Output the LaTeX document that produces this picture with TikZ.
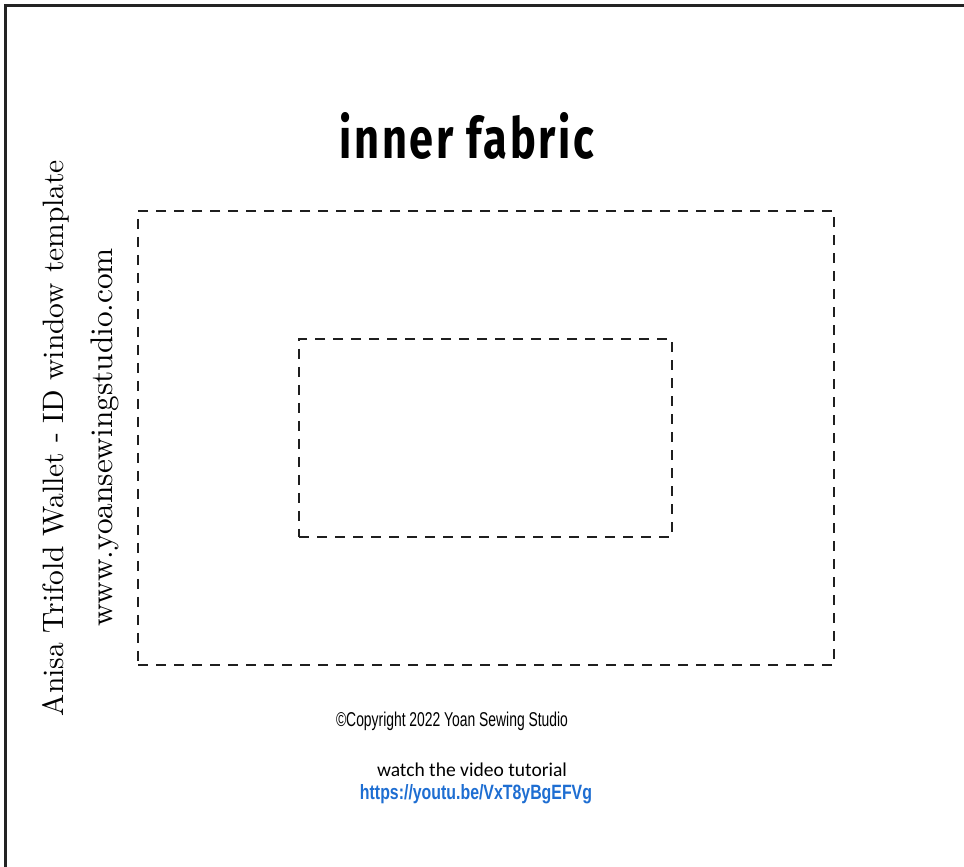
\documentclass[tikz,border=0pt]{standalone}
\usepackage{fontspec}
\usepackage{graphicx}
\newfontfamily\titlefont[LetterSpace=6]{Fira Sans}
\newfontfamily\arialfont{Liberation Sans}
\newfontfamily\calfont{Carlito}
\definecolor{linkblue}{RGB}{30,110,210}
\definecolor{framegray}{RGB}{35,35,35}
\tikzset{
  dashbox/.style={draw=black!88, line width=2pt, dash pattern=on 10pt off 8pt, inner sep=0pt, outer sep=0pt},
  txt/.style={anchor=base, inner sep=0pt, outer sep=0pt},
  frameline/.style={draw=framegray, line width=3pt}
}
\begin{document}
\begin{tikzpicture}[x=1pt,y=1pt]
\useasboundingbox (0,0) rectangle (964,867);
\fill[white] (0,0) rectangle (964,867);
% page frame (left and top edges)
\coordinate (fbl) at (5.5,-5);
\coordinate (ftl) at (5.5,861.5);
\coordinate (ftr) at (975,861.5);
\draw[frameline] (fbl) -- (ftl) -- (ftr);
% dashed rectangles
\node[dashbox, minimum width=696pt, minimum height=454pt] (outer) at (486,429) {};
\node[dashbox, minimum width=373pt, minimum height=198pt] (inner) at (485.5,429) {};
% title
\node[txt] (title) at (467,708) {\resizebox{254pt}{46pt}{\titlefont\bfseries inner fabric}};
% vertical texts
\node[txt, rotate=90] (vt1) at (63,429) {\resizebox{556pt}{!}{Anisa Trifold Wallet - ID window template}};
\node[txt, rotate=90] (vt2) at (112,429.5) {\resizebox{379pt}{!}{www.yoansewingstudio.com}};
% bottom texts
\node[txt] (copy) at (452,140) {\resizebox{232pt}{14.5pt}{\arialfont ©Copyright 2022 Yoan Sewing Studio}};
\node[txt] (watch) at (472,90) {\resizebox{190pt}{!}{\calfont watch the video tutorial}};
\node[txt, text=linkblue] (url) at (476,67) {\resizebox{232pt}{15pt}{\arialfont\bfseries https://youtu.be/VxT8yBgEFVg}};
\end{tikzpicture}
\end{document}
